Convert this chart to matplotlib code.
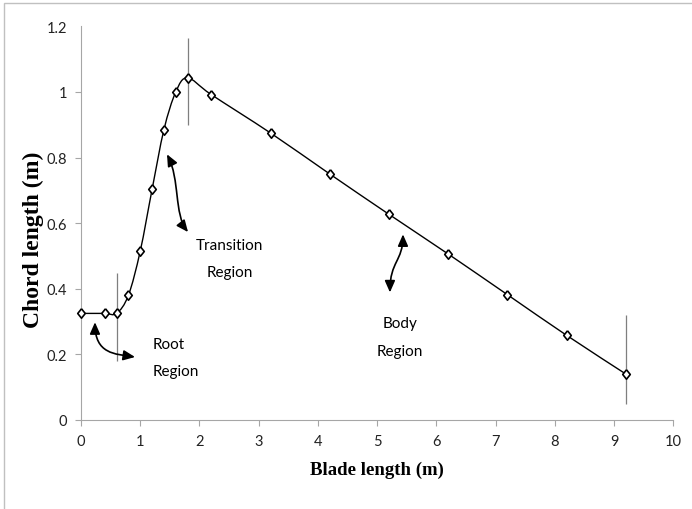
import numpy as np
import matplotlib.pyplot as plt
from matplotlib.path import Path
from matplotlib.patches import PathPatch, FancyArrowPatch, Rectangle

plt.rcParams['font.family'] = ['Lato', 'DejaVu Sans']

# chord distribution along the blade
blade_x = [0, 0.4, 0.6, 0.8, 1.0, 1.2, 1.4, 1.6, 1.8, 2.2, 3.2, 4.2, 5.2, 6.2, 7.2, 8.2, 9.2]
chord = [0.325, 0.325, 0.325, 0.38, 0.515, 0.703, 0.885, 1.0, 1.043, 0.992,
         0.875, 0.75, 0.627, 0.506, 0.382, 0.258, 0.14]

# thin separators between the regions
boundary_x = [0.6, 1.8, 9.2]
boundary_top = [0.448, 1.165, 0.32]
boundary_bottom = [0.18, 0.90, 0.05]

x_ticks = [0, 1, 2, 3, 4, 5, 6, 7, 8, 9, 10]
y_ticks = [0, 0.2, 0.4, 0.6, 0.8, 1.0, 1.2]
y_tick_labels = ['0', '0.2', '0.4', '0.6', '0.8', '1', '1.2']


def smooth_path(xs, ys):
    # excel style smoothed line (catmull-rom as bezier)
    pts = np.column_stack([xs, ys])
    padded = np.vstack([pts[0], pts, pts[-1]])
    verts = [pts[0]]
    codes = [Path.MOVETO]
    for i in range(len(pts) - 1):
        p0, p1, p2, p3 = padded[i], padded[i + 1], padded[i + 2], padded[i + 3]
        verts += [p1 + (p2 - p0) / 6, p2 - (p3 - p1) / 6, p2]
        codes += [Path.CURVE4] * 3
    return Path(verts, codes)


fig = plt.figure(figsize=(6.92, 5.10), dpi=100)
ax = fig.add_axes([81 / 692, 1 - 421 / 510, 592.3 / 692, 393.6 / 510])

ax.add_patch(PathPatch(smooth_path(blade_x, chord), fill=False,
                       edgecolor='black', lw=1.0, zorder=2))

diamond = [(0, 1), (0.8, 0), (0, -1), (-0.8, 0), (0, 1)]
ax.plot(blade_x, chord, ls='none', marker=diamond, ms=6.8, mfc='white',
        mec='black', mew=1.2, zorder=3, clip_on=False)

ax.vlines(boundary_x, boundary_bottom, boundary_top, colors='#7f7f7f', lw=0.9, zorder=1)

ax.set_xlim(0, 10)
ax.set_ylim(0, 1.2)
ax.set_xticks(x_ticks)
ax.set_yticks(y_ticks)
ax.set_yticklabels(y_tick_labels)
ax.yaxis.get_major_ticks()[-1].tick1line.set_visible(False)

for side in ['top', 'right']:
    ax.spines[side].set_visible(False)
for side in ['left', 'bottom']:
    ax.spines[side].set_color('#a6a6a6')
    ax.spines[side].set_linewidth(0.8)
ax.tick_params(axis='both', direction='out', length=4, width=0.8, color='#a6a6a6',
               labelsize=10.5, labelcolor='#222222', pad=6)

serif = ['Liberation Serif', 'DejaVu Serif']
fig.text(377 / 692, 1 - 470 / 510, 'Blade length (m)', family=serif, weight='bold',
         size=13.5, ha='center', va='center')
fig.text(33 / 692, 1 - 240 / 510, 'Chord length (m)', family=serif, weight='bold',
         size=17, rotation=90, ha='center', va='center')

# region annotations: curved double headed arrows
arrow_paths = [
    [(0.236, 0.298), (0.236, 0.201), (0.574, 0.201), (0.912, 0.192)],
    [(1.452, 0.810), (1.672, 0.734), (1.570, 0.627), (1.807, 0.573)],
    [(5.436, 0.566), (5.436, 0.484), (5.216, 0.484), (5.216, 0.389)],
]
for pts in arrow_paths:
    p = Path(pts, [Path.MOVETO, Path.CURVE4, Path.CURVE4, Path.CURVE4])
    ax.add_patch(FancyArrowPatch(path=p, arrowstyle='<|-|>,head_length=0.5,head_width=0.22',
                                 mutation_scale=14, color='black', lw=1.2, zorder=4))

ax.text(1.21, 0.219, 'Root', size=11, ha='left', va='baseline')
ax.text(1.21, 0.137, 'Region', size=11, ha='left', va='baseline')
ax.text(2.507, 0.521, 'Transition', size=11, ha='center', va='baseline')
ax.text(2.507, 0.438, 'Region', size=11, ha='center', va='baseline')
ax.text(5.386, 0.285, 'Body', size=11, ha='center', va='baseline')
ax.text(5.386, 0.199, 'Region', size=11, ha='center', va='baseline')

# light frame around the picture
fig.patches.append(Rectangle((4 / 692, -0.05), 1.1, 1 - 4 / 510 + 0.05, fill=False,
                             edgecolor='#c0c0c0', lw=1.0, transform=fig.transFigure,
                             figure=fig))

fig.savefig('out.png', dpi=100)
